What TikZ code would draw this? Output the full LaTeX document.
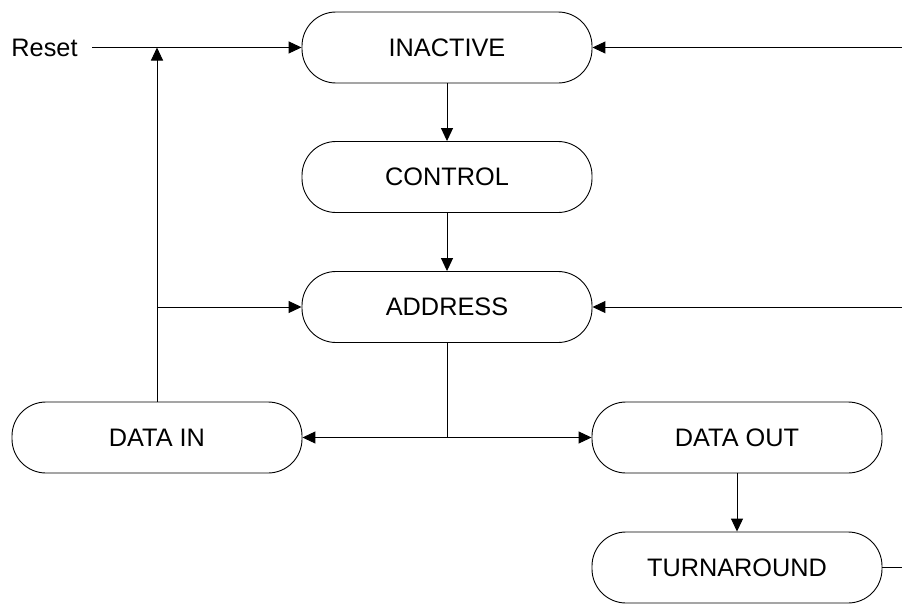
\documentclass[tikz,border=0pt]{standalone}
\usepackage{fontspec}
\setmainfont{Liberation Sans}
\usetikzlibrary{arrows.meta}
\begin{document}
\begin{tikzpicture}[x=1pt,y=-1pt,
  state/.style={draw, line width=0.9pt, rounded corners=34pt, minimum width=290pt, minimum height=71pt, inner sep=0pt, font=\fontsize{25.3}{29}\selectfont},
  conn/.style={draw, line width=1pt},
  arr/.style={conn, -{Triangle[length=13pt,width=12pt]}}
]
\useasboundingbox (0,0) rectangle (902,605);
\node[state] (inactive) at (447,47.5) {INACTIVE};
\node[state] (control) at (447,177) {CONTROL};
\node[state] (address) at (447,307) {ADDRESS};
\node[state] (datain) at (157,437.5) {DATA IN};
\node[state] (dataout) at (737,437.5) {DATA OUT};
\node[state] (turnaround) at (737,567.5) {TURNAROUND};
\node[font=\fontsize{25.3}{29}\selectfont, inner sep=0pt] (reset) at (44.5,47.5) {Reset};
\coordinate (rs) at (92,47.5);
\coordinate (j1) at (157,47.5);
\coordinate (j2) at (157,307);
\coordinate (j3) at (447,437.5);
\coordinate (r1) at (902,47.5);
\coordinate (r2) at (902,307);
\coordinate (r3) at (902,567.5);
\draw[arr] (rs) -- (inactive.west);
\draw[arr] (datain.north) -- (j1);
\draw[arr] (j2) -- (address.west);
\draw[arr] (inactive.south) -- (control.north);
\draw[arr] (control.south) -- (address.north);
\draw[conn] (address.south) -- (j3);
\draw[arr] (j3) -- (datain.east);
\draw[arr] (j3) -- (dataout.west);
\draw[arr] (dataout.south) -- (turnaround.north);
\draw[conn] (turnaround.east) -- (r3);
\draw[arr] (r1) -- (inactive.east);
\draw[arr] (r2) -- (address.east);
\end{tikzpicture}
\end{document}
